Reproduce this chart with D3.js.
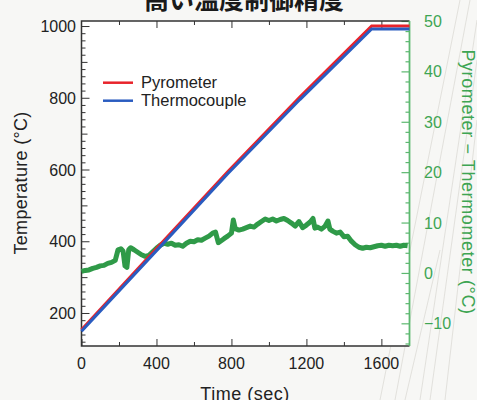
<!DOCTYPE html>
<html>
<head>
<meta charset="utf-8">
<script src="https://cdn.jsdelivr.net/npm/d3@7"></script>
<style>
  body { margin: 0; background: #f7f7f5; }
  svg { display: block; font-family: "Liberation Sans", Arial, sans-serif; }
</style>
</head>
<body>
<svg id="chart" width="477" height="400"></svg>
<script>
// data
const seriesNames = ["Pyrometer", "Thermocouple"];
const rampTime = [0, 420, 780, 1165, 1548, 1750];
const pyrometer = [153, 391, 594, 802, 1000, 1000];
const thermocouple = [149, 385, 588, 795, 992, 992];

const diffTime = [0, 20, 40, 60, 80, 100, 120, 140, 160, 180, 195, 210, 222, 232, 242, 252, 262, 280, 300, 320,
  340, 360, 380, 400, 420, 440, 460, 480, 500, 520, 540, 560, 580, 600, 620, 640, 660, 680, 700, 715,
  730, 760, 780, 800, 810, 820, 840, 860, 880, 900, 920, 940, 960, 980, 1000, 1020, 1040, 1060, 1080, 1100,
  1120, 1140, 1160, 1180, 1200, 1220, 1235, 1245, 1260, 1280, 1300, 1315, 1325, 1340, 1360, 1380, 1400, 1420, 1440, 1460,
  1480, 1500, 1520, 1540, 1560, 1580, 1600, 1620, 1640, 1660, 1680, 1700, 1720, 1740];
const diffValue = [0.3, 0.5, 0.6, 0.9, 1.1, 1.4, 1.5, 1.9, 2.1, 2.5, 4.6, 4.8, 4.3, 1.4, 1.1, 4.6, 5.0, 4.6, 4.1, 3.6,
  3.3, 3.5, 4.2, 4.9, 5.5, 5.9, 5.7, 5.9, 5.5, 5.6, 5.3, 5.9, 6.3, 6.2, 6.6, 6.5, 6.9, 7.3, 7.9, 8.1,
  6.0, 6.8, 7.3, 7.9, 10.5, 8.8, 8.5, 8.7, 9.0, 9.3, 9.1, 9.7, 10.2, 10.7, 10.4, 10.7, 10.3, 10.6, 10.8, 10.4,
  9.9, 9.3, 10.2, 9.0, 9.5, 10.1, 10.8, 8.9, 9.1, 8.7, 9.3, 10.3, 8.7, 8.3, 7.9, 8.1, 7.2, 7.3, 6.3, 5.6,
  5.1, 4.9, 5.1, 5.0, 5.2, 5.4, 5.5, 5.3, 5.5, 5.4, 5.5, 5.3, 5.5, 5.4];

const xTicks = [0, 400, 800, 1200, 1600];
const leftTicks = [200, 400, 600, 800, 1000];
const rightTicks = [-10, 0, 10, 20, 30, 40, 50];

const svg = d3.select("#chart");
const box = { left: 81.5, right: 409.5, top: 21, bottom: 346 };

const x = d3.scaleLinear().domain([0, 1750]).range([box.left, box.right]);
const yL = d3.scaleLinear().domain([108, 1014]).range([box.bottom, box.top]);
const yR = d3.scaleLinear().domain([-14.5, 50]).range([box.bottom, box.top]);

// faint background streaks
const streaks = svg.append("g").attr("stroke", "#dcdad5").attr("fill", "none").attr("stroke-width", 0.8);
[[470, 0, 395, 400], [477, 20, 420, 400], [477, 120, 445, 400], [460, 0, 380, 400], [477, 60, 430, 400], [440, 250, 405, 400]]
  .forEach(s => streaks.append("line").attr("x1", s[0]).attr("y1", s[1]).attr("x2", s[2]).attr("y2", s[3]));

// plot background
svg.append("rect")
  .attr("x", box.left).attr("y", box.top)
  .attr("width", box.right - box.left).attr("height", box.bottom - box.top)
  .attr("fill", "#fff");

// title (cut at the top edge, as in the source)
svg.append("text")
  .attr("x", 244).attr("y", 9)
  .attr("text-anchor", "middle")
  .style("font-family", "'Noto Sans CJK JP', sans-serif")
  .style("font-weight", "bold")
  .style("font-size", "25px")
  .attr("fill", "#1a1a1a")
  .text("高い温度制御精度");

// left axis
const leftAxis = svg.append("g").attr("transform", `translate(${box.left},0)`);
leftAxis.call(d3.axisRight(yL).tickValues(d3.range(120, 1001, 20)).tickSize(4).tickFormat(""));
leftAxis.selectAll(".tick line").attr("stroke", "#333")
  .attr("x2", d => d % 200 === 0 ? 8 : (d % 100 === 0 ? 6 : 4));
leftAxis.select(".domain").remove();
leftTicks.forEach(v => svg.append("text")
  .attr("x", 76).attr("y", yL(v) + 6)
  .attr("text-anchor", "end").style("font-size", "16px").attr("fill", "#222")
  .text(v));

// bottom and top axes
const bottomAxis = svg.append("g").attr("transform", `translate(0,${box.bottom})`)
  .call(d3.axisTop(x).tickValues(d3.range(0, 1750, 200)).tickSize(4).tickFormat(""));
bottomAxis.selectAll(".tick line").attr("stroke", "#333").attr("y2", d => d % 400 === 0 ? -7 : -4);
bottomAxis.select(".domain").remove();
const topAxis = svg.append("g").attr("transform", `translate(0,${box.top})`)
  .call(d3.axisBottom(x).tickValues(d3.range(200, 1750, 200)).tickSize(4).tickFormat(""));
topAxis.selectAll(".tick line").attr("stroke", "#333").attr("y2", d => d % 400 === 0 ? 7 : 4);
topAxis.select(".domain").remove();
xTicks.forEach(v => svg.append("text")
  .attr("x", x(v)).attr("y", 369)
  .attr("text-anchor", "middle").style("font-size", "16px").attr("fill", "#222")
  .text(v));

// right axis
const rightAxis = svg.append("g").attr("transform", `translate(${box.right},0)`)
  .call(d3.axisLeft(yR).tickValues(d3.range(-14, 51, 2)).tickSize(4).tickFormat(""));
rightAxis.selectAll(".tick line").attr("stroke", "#5cb86f").attr("stroke-width", 1.2)
  .attr("x2", d => d % 10 === 0 ? -8 : -4);
rightAxis.select(".domain").remove();
rightTicks.forEach(v => svg.append("text")
  .attr("x", 424).attr("y", yR(v) + 6)
  .attr("text-anchor", "start").style("font-size", "16px").attr("fill", "#3ea553")
  .text(v < 0 ? "\u2212" + Math.abs(v) : v));

// frame
svg.append("path")
  .attr("d", `M${box.right},${box.top}H${box.left}V${box.bottom}H${box.right}`)
  .attr("fill", "none").attr("stroke", "#333").attr("stroke-width", 1.5);
svg.append("line")
  .attr("x1", box.right).attr("x2", box.right).attr("y1", box.top).attr("y2", box.bottom)
  .attr("stroke", "#5cb86f").attr("stroke-width", 1.8);

// series
const line = d3.line().x(d => x(d[0])).y(d => d[1]);
const diffLine = d3.line().x((d, i) => x(diffTime[i])).y(d => yR(d));
svg.append("path")
  .attr("d", diffLine(diffValue))
  .attr("fill", "none").attr("stroke", "#2f9a48").attr("stroke-width", 5).attr("stroke-linejoin", "round");
svg.append("path")
  .attr("d", line(rampTime.map((t, i) => [t, yL(pyrometer[i])])))
  .attr("fill", "none").attr("stroke", "#e8232b").attr("stroke-width", 3);
svg.append("path")
  .attr("d", line(rampTime.map((t, i) => [t, yL(thermocouple[i])])))
  .attr("fill", "none").attr("stroke", "#2a5cc0").attr("stroke-width", 3);

// legend
const legendColors = ["#e8232b", "#2a5cc0"];
seriesNames.forEach((name, i) => {
  const ly = 82.7 + i * 18;
  svg.append("line").attr("x1", 103).attr("x2", 133).attr("y1", ly).attr("y2", ly)
    .attr("stroke", legendColors[i]).attr("stroke-width", 2.5);
  svg.append("text").attr("x", 141).attr("y", ly + 5.5)
    .style("font-size", "16.5px").attr("fill", "#222").text(name);
});

// axis titles
svg.append("text")
  .attr("transform", "translate(27,183) rotate(-90)")
  .attr("text-anchor", "middle").style("font-size", "18px").style("letter-spacing", "0.3px").attr("fill", "#222")
  .text("Temperature (°C)");
svg.append("text")
  .attr("x", 245).attr("y", 400)
  .attr("text-anchor", "middle").style("font-size", "18px").style("letter-spacing", "0.5px").attr("fill", "#222")
  .text("Time (sec)");
svg.append("text")
  .attr("transform", "translate(462,182) rotate(90)")
  .attr("text-anchor", "middle").style("font-size", "18px").style("letter-spacing", "0.6px").attr("fill", "#3ea553")
  .text("Pyrometer \u2212 Thermometer (°C)");
</script>
</body>
</html>
